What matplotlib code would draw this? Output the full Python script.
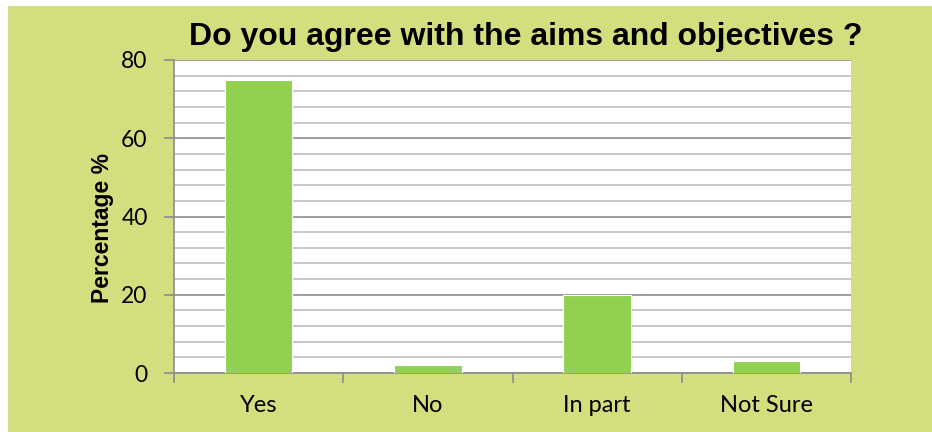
import numpy as np
import matplotlib.pyplot as plt
from matplotlib.patches import Rectangle

categories = ["Yes", "No", "In part", "Not Sure"]
values = [75, 2, 20, 3]

fig = plt.figure(figsize=(9.32, 4.32), dpi=100)
fig.patch.set_facecolor("white")
# fond vert du graphique (marge blanche en haut et a gauche)
fig.add_artist(Rectangle((8/932, 0), 1, 426/432, transform=fig.transFigure,
                         facecolor="#D3DF7E", edgecolor="none", zorder=-5))

ax = fig.add_axes([174/932, 59/432, 677/932, 313/432])
ax.set_facecolor("white")

x = np.arange(len(categories))
ax.bar(x, values, width=0.4, color="#92D050", edgecolor="white", linewidth=0.8, zorder=3)

ax.set_xlim(-0.5, len(categories) - 0.5)
ax.set_ylim(0, 80)
ax.set_yticks(np.arange(0, 81, 20))
ax.set_yticks(np.arange(0, 81, 4), minor=True)
ax.grid(axis="y", which="major", color="#8C8C8C", linewidth=1.2, zorder=1)
ax.grid(axis="y", which="minor", color="#BDBDBD", linewidth=1.2, zorder=1)

# ticks x aux limites entre categories
ax.set_xticks(np.arange(-0.5, len(categories)), minor=True)
ax.set_xticks(x)
ax.set_xticklabels(categories, family="Lato", fontsize=17)
ax.tick_params(axis="x", which="major", length=0, pad=16)
ax.tick_params(axis="x", which="minor", length=7, color="#8C8C8C", width=1.2)
ax.tick_params(axis="y", which="major", length=7, color="#8C8C8C", width=1.2, labelsize=16.5, pad=12)
ax.tick_params(axis="y", which="minor", length=0)
for lab in ax.get_yticklabels():
    lab.set_family("Lato")

for s in ["top", "right"]:
    ax.spines[s].set_visible(False)
for s in ["left", "bottom"]:
    ax.spines[s].set_color("#8C8C8C")
    ax.spines[s].set_linewidth(1.2)

fig.text(102/932, 1 - 228/432, "Percentage %", rotation=90, family="Liberation Sans",
         fontweight="bold", fontsize=16.5, ha="center", va="center")
fig.text(526/932, 1 - 37/432, "Do you agree with the aims and objectives ?",
         family="Liberation Sans", fontweight="bold", fontsize=23, ha="center", va="center")

fig.savefig("out.png", dpi=100)
